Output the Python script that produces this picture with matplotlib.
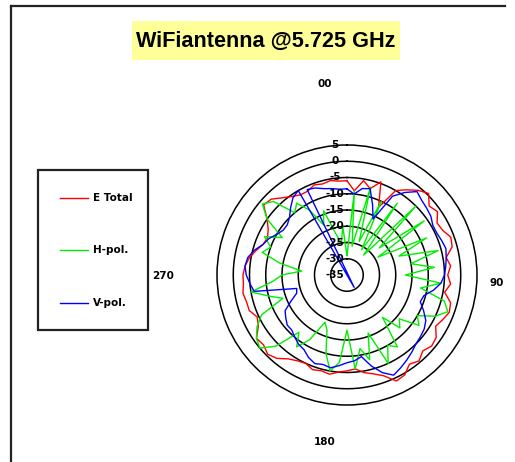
import numpy as np
import matplotlib
matplotlib.use("Agg")
import matplotlib.pyplot as plt
from matplotlib.lines import Line2D
from matplotlib.patches import Rectangle
from matplotlib.transforms import offset_copy

W, H = 515, 462

# ---------------- data ----------------
title = "WiFiantenna @5.725 GHz"
series_names = ["E Total", "H-pol.", "V-pol."]
angle_labels = ["00", "90", "180", "270"]
r_ticks = [5, 0, -5, -10, -15, -20, -25, -30, -35]

angles = list(range(0, 360, 5))

e_total = [-6, -9, -5.5, -7.5, -4.5, -12, -5, -3, -1, 0.5, -2, -1, -3, -2.5, -1, -1.5,
           -4, -3, -4, -3, -4.5, -2, -1.5, -2.5, -3.5, -1.5, -1, -2, -0.5, -1.5, 0.5, 1,
           -2, -3.5, -4.5, -6, -5.5, -5, -4, -4.5, -4, -5, -4.5, -3.5, -1.5, -0.5, -1.5, -1,
           -3.5, -4.5, -3, -3, -2.5, -3, -3, -3.5, -4.5, -6, -7.5, -8, -7, -5, -1.5, -2,
           -4, -5.5, -6.5, -6.5, -5.5, -6, -5.5, -6]

h_pol = [-29, -9, -26, -7, -24, -10, -26, -8, -27, -5, -22, -6, -24, -8, -18, -6,
         -15, -8, -17, -6, -12, -4, -2, -5, -10, -8, -14, -12, -18, -8, -10, -5,
         -16, -8, -12, -6, -18, -8, -5, -10, -17, -19, -12, -8, -12, -4, 0, -1,
         -3, -6, -14, -10, -5, -12, -15, -21, -14, -8, -10, -7, -12, -5, -1, -3,
         -10, -8, -12, -18, -14, -22, -25, -20]

v_angles = list(range(0, 335, 5)) + [150] + list(range(335, 360, 5))
v_pol = [-8.5, -10, -8, -7.5, -12, -16, -7, -4, -1.5, -2.5, -3, -3.5, -4.5, -4.5, -4, -3.5,
         -4, -4.5, -5, -6, -8, -10.5, -11, -9, -7, -6, -5.5, -5, -4, -3, -2, -1,
         -3, -6, -9.5, -8.5, -8, -7, -6, -6.5, -6, -7, -8.5, -9, -10, -11, -11, -12,
         -13, -16, -18.5, -19, -6, -5, -4, -3.5, -4, -5.5, -7.5, -8.5, -10, -11, -11, -10,
         -8, -6, -5, -30.6, -6, -6.5, -7.5, -8, -8.5]

# ---------------- figure ----------------
fig = plt.figure(figsize=(W / 100, H / 100), dpi=100)
fig.patch.set_facecolor("white")

def fx(x):
    return x / W

def fy(y):
    return 1 - y / H

small = dict(family="DejaVu Sans", fontweight="bold", fontsize=7.5)

# outer frame (left and top edges visible)
fig.add_artist(Line2D([fx(11), fx(11)], [fy(6), fy(462)], color="#222222", lw=1.6))
fig.add_artist(Line2D([fx(11), fx(505)], [fy(6), fy(6)], color="#222222", lw=1.6))

# title with yellow box
fig.add_artist(Rectangle((fx(132), fy(60)), fx(400) - fx(132), fy(21) - fy(60),
                         facecolor="#FFFF99", edgecolor="none"))
fig.text(fx(266), fy(41), title, ha="center", va="center", fontsize=15.6,
         fontweight="bold", family="Liberation Sans")

# polar axes
cx, cy, R = 347, 275, 130
ax = fig.add_axes([fx(cx - R), fy(cy + R), 2 * R / W, 2 * R / H], projection="polar")
ax.set_theta_zero_location("N")
ax.set_theta_direction(-1)
ax.set_rlim(-35, 5)
ax.set_yticks([])
ax.set_xticks([])
ax.grid(False)
ax.spines["polar"].set_color("black")
ax.spines["polar"].set_linewidth(1.1)
ax.patch.set_alpha(0)

ring_theta = np.linspace(0, 2 * np.pi, 361)
for r in r_ticks[1:-1]:
    ax.plot(ring_theta, np.full_like(ring_theta, r), color="black", lw=1.1, zorder=1)

colors = ["#FF0000", "#00EE00", "#0000FF"]
th = np.deg2rad(angles)
ax.plot(np.append(th, th[0]), e_total + e_total[:1], color=colors[0], lw=1, zorder=2)
ax.plot(np.append(th, th[0]), h_pol + h_pol[:1], color=colors[1], lw=1, zorder=2)
tv = np.deg2rad(v_angles)
ax.plot(np.append(tv, tv[0]), v_pol + v_pol[:1], color=colors[2], lw=1, zorder=2)

tr = offset_copy(ax.transData, fig=fig, x=-12, y=0, units="dots")
for r in r_ticks:
    ax.text(0, r, str(r), transform=tr, ha="center", va="center", zorder=3, **small)

# angle labels
for lab, (x, y) in zip(angle_labels, [(325, 84), (497, 283), (325, 442), (163, 276)]):
    fig.text(fx(x), fy(y), lab, ha="center", va="center", **small)

# legend box
fig.add_artist(Rectangle((fx(38), fy(330)), fx(148) - fx(38), fy(170) - fy(330),
                         facecolor="white", edgecolor="#222222", lw=1.6))
for name, col, y in zip(series_names, colors, [198, 250, 303]):
    fig.add_artist(Line2D([fx(60), fx(88)], [fy(y), fy(y)], color=col, lw=1))
    fig.text(fx(93), fy(y), name, ha="left", va="center", **small)

fig.savefig("out.png", dpi=100)
